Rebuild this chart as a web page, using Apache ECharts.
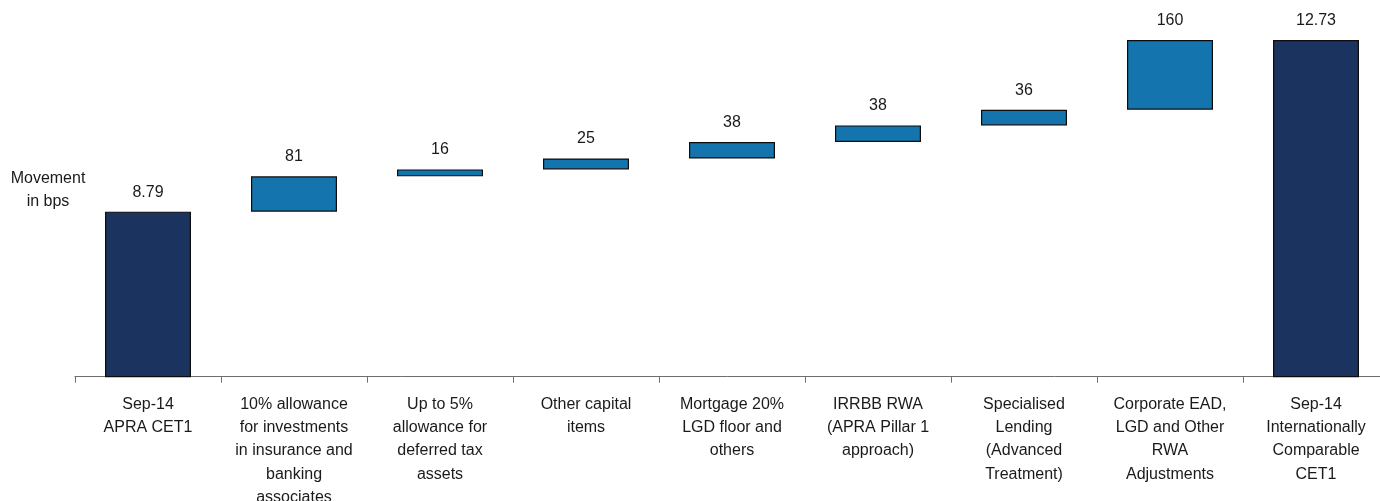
<!DOCTYPE html>
<html>
<head>
<meta charset="utf-8">
<script src="https://cdn.jsdelivr.net/npm/echarts@6/dist/echarts.min.js"></script>
<style>
html,body{margin:0;padding:0;background:#fff;overflow:hidden;}
#chart{width:1380px;height:501px;}
</style>
</head>
<body>
<div id="chart"></div>
<script>
const categories = [
  'Sep-14\nAPRA CET1',
  '10% allowance\nfor investments\nin insurance and\nbanking\nassociates',
  'Up to 5%\nallowance for\ndeferred tax\nassets',
  'Other capital\nitems',
  'Mortgage 20%\nLGD floor and\nothers',
  'IRRBB RWA\n(APRA Pillar 1\napproach)',
  'Specialised\nLending\n(Advanced\nTreatment)',
  'Corporate EAD,\nLGD and Other\nRWA\nAdjustments',
  'Sep-14\nInternationally\nComparable\nCET1'
];
const startValue = 8.79;
const endValue = 12.73;
const movementsBps = [81, 16, 25, 38, 38, 36, 160];

// build waterfall series from the data
const baseData = [];
const barData = [];
const labelTexts = [];
baseData.push(0);
barData.push({value: startValue, itemStyle: {color: '#1b345f'}});
labelTexts.push(startValue.toFixed(2));
let cum = startValue;
movementsBps.forEach(function (m) {
  baseData.push(cum);
  barData.push({value: m / 100, itemStyle: {color: '#1474ad'}});
  labelTexts.push(String(m));
  cum += m / 100;
});
baseData.push(0);
barData.push({value: endValue, itemStyle: {color: '#1b345f'}});
labelTexts.push(endValue.toFixed(2));

const FONT = 'Liberation Sans, Arial, sans-serif';
const chart = echarts.init(document.getElementById('chart'), null, {renderer: 'canvas', width: 1380, height: 501});
chart.setOption({
  animation: false,
  backgroundColor: '#ffffff',
  textStyle: {fontFamily: FONT},
  grid: {left: 75, top: 6.5, width: 1314, height: 370.2, containLabel: false, outerBoundsMode: 'none'},
  xAxis: {
    type: 'category',
    data: categories,
    axisLine: {show: true, lineStyle: {color: '#6e6e6e', width: 1}},
    axisTick: {show: true, length: 6, alignWithLabel: false, lineStyle: {color: '#6e6e6e'}},
    axisLabel: {
      interval: 0,
      margin: 16,
      color: '#1a1a1a',
      fontSize: 16,
      lineHeight: 23.3,
      fontFamily: FONT
    }
  },
  yAxis: {
    type: 'value',
    min: 5,
    max: 13.5,
    show: false,
    splitLine: {show: false}
  },
  graphic: [{
    type: 'text',
    x: 48,
    y: 190,
    style: {
      text: 'Movement\nin bps',
      fill: '#1a1a1a',
      fontSize: 16,
      lineHeight: 23.5,
      fontFamily: FONT,
      textAlign: 'center',
      textVerticalAlign: 'middle'
    }
  }],
  series: [
    {
      type: 'bar',
      stack: 'wf',
      data: baseData,
      barWidth: 86,
      itemStyle: {color: 'transparent', borderWidth: 0},
      silent: true
    },
    {
      type: 'bar',
      stack: 'wf',
      data: barData,
      barWidth: 86,
      itemStyle: {borderColor: '#0d0d0d', borderWidth: 1.2},
      label: {
        show: true,
        position: 'top',
        distance: 11.5,
        color: '#1a1a1a',
        fontSize: 16,
        fontFamily: FONT,
        formatter: function (p) { return labelTexts[p.dataIndex]; }
      }
    }
  ]
});
</script>
</body>
</html>
